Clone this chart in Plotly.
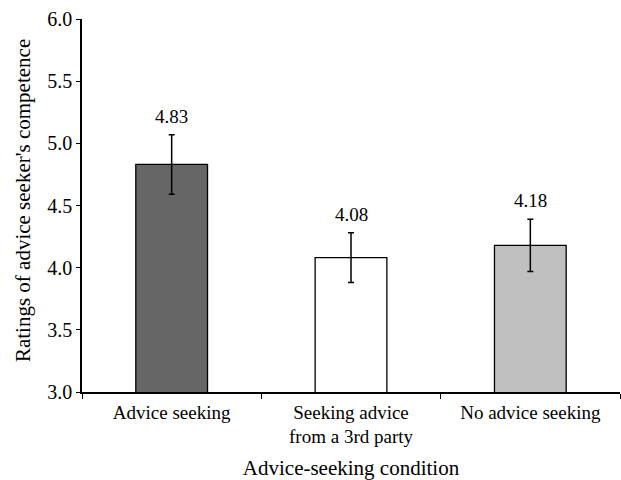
import plotly.graph_objects as go

categories = ["Advice seeking", "Seeking advice<br>from a 3rd party", "No advice seeking"]
means = [4.83, 4.08, 4.18]
errors = [0.24, 0.20, 0.21]
labels = ["4.83", "4.08", "4.18"]
colors = ["#666666", "#ffffff", "#c0c0c0"]
y_title = "Ratings of advice seeker's competence"
x_title = "Advice-seeking condition"

FONT = "Liberation Serif, Times New Roman, serif"

fig = go.Figure()
fig.add_trace(go.Bar(
    x=categories,
    y=means,
    width=0.4,
    marker=dict(color=colors, line=dict(color="black", width=1.3)),
    error_y=dict(type="data", array=errors, visible=True,
                 color="black", thickness=1.5, width=3),
    showlegend=False,
    hoverinfo="skip",
))

for c, m, e, t in zip(categories, means, errors, labels):
    fig.add_annotation(x=c, y=m + e, text=t, showarrow=False,
                       yanchor="bottom", yshift=6,
                       font=dict(family=FONT, size=19, color="black"))

# y-axis title placed as a rotated annotation for exact positioning
fig.add_annotation(text=y_title, xref="paper", yref="paper", x=-0.11, y=0.514,
                   xanchor="center", yanchor="middle", textangle=-90, showarrow=False,
                   font=dict(family=FONT, size=21, color="black"))

fig.update_layout(
    width=621, height=480,
    margin=dict(l=82, r=1, t=19, b=88, autoexpand=False),
    paper_bgcolor="white", plot_bgcolor="white",
    font=dict(family=FONT, color="black"),
    bargap=0.6,
)
fig.update_xaxes(
    type="category",
    range=[-0.5, 2.5],
    automargin=False,
    showline=True, linecolor="black", linewidth=1.5,
    ticks="outside", tickson="boundaries", ticklen=5, tickcolor="black", tickwidth=1.2,
    ticklabelstandoff=2,
    tickfont=dict(family=FONT, size=19, color="black"),
    title=dict(text=x_title, font=dict(family=FONT, size=21, color="black"),
               standoff=16),
    showgrid=False, zeroline=False,
)
fig.update_yaxes(
    range=[3, 6], dtick=0.5, tick0=3, tickformat=".1f",
    automargin=False,
    showline=True, linecolor="black", linewidth=1.5,
    ticks="outside", ticklen=4, tickcolor="black", tickwidth=1.2,
    tickfont=dict(family=FONT, size=20, color="black"),
    showgrid=False, zeroline=False,
)

fig.write_html("out.html", config={"displayModeBar": False},
               post_script="document.body.style.margin='0';document.body.style.overflow='hidden';")
